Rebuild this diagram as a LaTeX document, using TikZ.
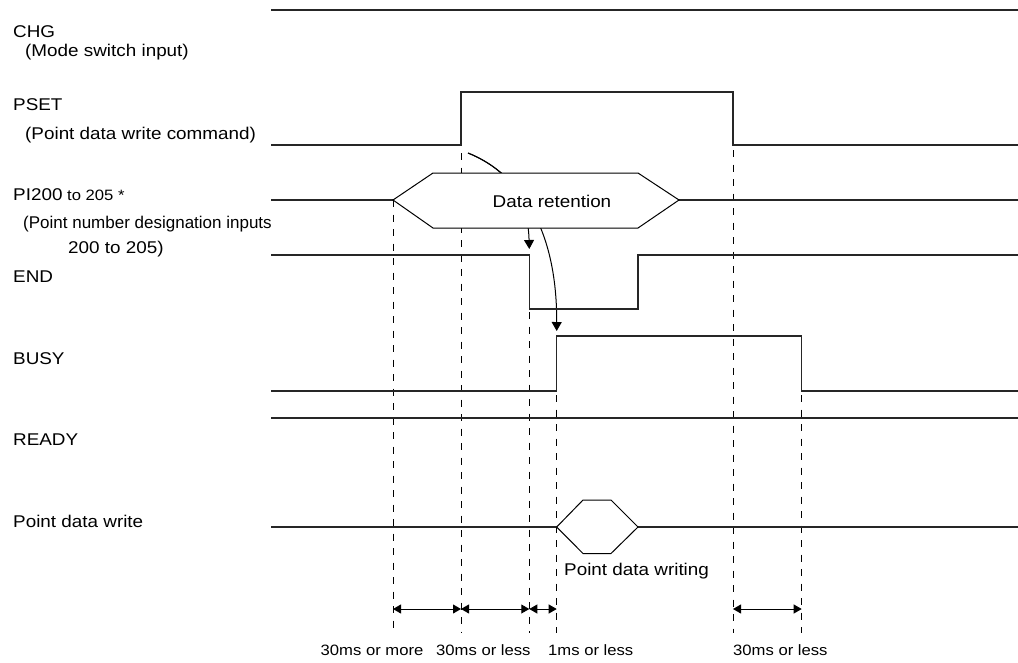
\documentclass[tikz,border=0pt]{standalone}
\usepackage{fontspec}
\setmainfont{Liberation Sans}[FakeStretch=1.11]
\newfontfamily\narrowfont{Liberation Sans}
\usetikzlibrary{arrows.meta}
\begin{document}
\begin{tikzpicture}[x=1pt,y=-1pt,
  sig/.style={line width=1.1pt, black!85},
  guide/.style={line width=0.9pt, dash pattern=on 7pt off 7.5pt},
  lbl/.style={anchor=base west, inner sep=0pt, font=\fontsize{17}{20}\selectfont},
  small/.style={anchor=base west, inner sep=0pt, font=\fontsize{15}{18}\selectfont},
  dim/.style={line width=0.9pt, {Triangle[length=8pt,width=9pt]}-{Triangle[length=8pt,width=9pt]}},
  cause/.style={line width=1pt, -{Triangle[length=9pt,width=10pt]}},
  hexa/.style={line width=1pt, fill=white}]
\useasboundingbox (0,0) rectangle (1018,662);

% ---- labels ----
\node[lbl] (chg) at (13,37) {CHG};
\node[lbl] (chgd) at (25,56) {(Mode switch input)};
\node[lbl] (pset) at (13,110) {PSET};
\node[lbl] (psetd) at (25,139) {(Point data write command)};
\node[lbl] (pi) at (13,200) {PI200\fontsize{15}{18}\selectfont{} to 205 *};
\node[lbl] (pid) at (23,228) {\narrowfont(Point number designation inputs};
\node[lbl] (pid2) at (68,253) {200 to 205)};
\node[lbl] (endl) at (13,282) {END};
\node[lbl] (busyl) at (13,364) {BUSY};
\node[lbl] (readyl) at (13,445) {READY};
\node[lbl] (pdwl) at (13,527) {Point data write};

% ---- guides ----
\draw[guide] (393,200) -- (393,633);
\draw[guide] (461,153) -- (461,633);
\draw[guide] (529.3,312) -- (529.3,633);
\draw[guide] (556.7,395) -- (556.7,633);
\draw[guide] (733,150) -- (733,633);
\draw[guide] (801.7,395) -- (801.7,633);

% ---- causal arrows ----
\coordinate (psetrise) at (468,153);
\coordinate (endfall) at (529.3,249);
\coordinate (busyrise) at (556.7,331);
\draw[cause] (psetrise) .. controls (510,170) and (528,200) .. (endfall);
\draw[cause] (psetrise) .. controls (510,170) and (557,215) .. (busyrise);

% ---- signals ----
\draw[sig] (271,10) -- (1018,10);
\draw[sig] (271,145) -- (461,145) -- (461,92) -- (733,92) -- (733,145) -- (1018,145);
\draw[sig] (271,200) -- (393,200);
\draw[sig] (679,200) -- (1018,200);
\draw[hexa] (393,200) -- (433,173) -- (638,173) -- (679,200) -- (638,228) -- (433,228) -- cycle;
\node[lbl, anchor=base] (dr) at (552,207) {Data retention};
\draw[sig] (271,255) -- (529.3,255) -- (529.3,309) -- (638,309) -- (638,255) -- (1018,255);
\draw[sig] (271,391) -- (556.7,391) -- (556.7,336) -- (801.7,336) -- (801.7,391) -- (1018,391);
\draw[sig] (271,418) -- (1018,418);
\draw[sig] (271,527) -- (556.7,527);
\draw[sig] (638,527) -- (1018,527);
\draw[hexa] (556.7,527) -- (583,500) -- (611,500) -- (638,527) -- (611,553.5) -- (583,553.5) -- cycle;
\node[lbl] (pdw) at (564,575) {Point data writing};

% ---- dimensions ----
\coordinate (d1) at (393,609);
\coordinate (d2) at (461,609);
\coordinate (d3) at (529.3,609);
\coordinate (d4) at (556.7,609);
\coordinate (d5) at (733,609);
\coordinate (d6) at (801.7,609);
\draw[dim] (d1) -- (d2);
\draw[dim] (d2) -- (d3);
\draw[dim] (d3) -- (d4);
\draw[dim] (d5) -- (d6);
\node[small] (t1) at (320.5,655) {30ms or more};
\node[small] (t2) at (436,655) {30ms or less};
\node[small] (t3) at (548,655) {1ms or less};
\node[small] (t4) at (733,655) {30ms or less};
\end{tikzpicture}
\end{document}
